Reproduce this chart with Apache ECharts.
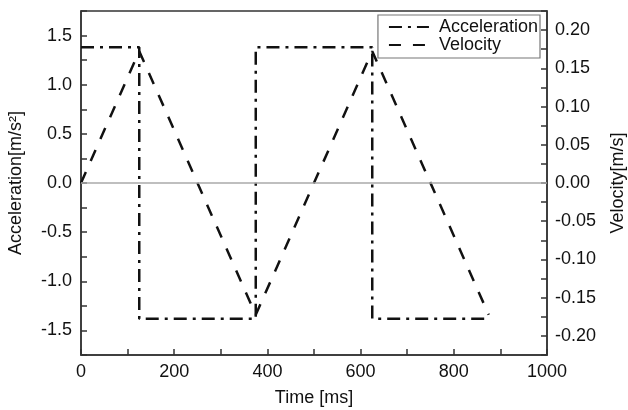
<!DOCTYPE html>
<html>
<head>
<meta charset="utf-8">
<script src="https://cdn.jsdelivr.net/npm/echarts@6/dist/echarts.min.js"></script>
<style>html,body{margin:0;padding:0;background:#fff}#c{width:628px;height:410px}</style>
</head>
<body>
<div id="c"></div>
<script>
// Acceleration (m/s^2) step profile
const accTime = [0, 125, 125, 375, 375, 625, 625, 875];
const accValue = [1.38, 1.38, -1.38, -1.38, 1.38, 1.38, -1.38, -1.38];
// Velocity (m/s) triangle profile
const velTime = [0, 125, 375, 625, 875];
const velValue = [0, 0.1725, -0.1725, 0.1725, -0.1725];
const seriesNames = ['Acceleration', 'Velocity'];
const axisNames = ['Time [ms]', 'Acceleration[m/s\u00B2]', 'Velocity[m/s]'];

const FONT = 'Liberation Sans, Arial, sans-serif';
const ink = '#111';
const FS = 18;
const chart = echarts.init(document.getElementById('c'));
const isMult = (v, step) => Math.abs(v / step - Math.round(v / step)) < 1e-6;

chart.setOption({
  animation: false,
  backgroundColor: '#fff',
  grid: { left: 81, right: 81, top: 11, bottom: 55, show: true, borderColor: '#333', borderWidth: 1.5,
    backgroundColor: 'transparent', containLabel: false, outerBoundsMode: 'none' },
  legend: {
    right: 88, top: 15, orient: 'vertical', itemGap: 0, itemWidth: 40, itemHeight: 14,
    padding: [3, 2, 4, 10], borderColor: '#777', borderWidth: 1.2, backgroundColor: '#fff',
    itemStyle: { opacity: 0 },
    textStyle: { fontFamily: FONT, fontSize: FS, lineHeight: 16, color: ink, padding: [0, 0, 0, 5] },
    data: seriesNames
  },
  xAxis: {
    type: 'value', min: 0, max: 1000, interval: 100,
    name: axisNames[0], nameLocation: 'middle', nameGap: 34,
    nameTextStyle: { fontFamily: FONT, fontSize: FS, color: ink },
    axisLine: { onZero: false, lineStyle: { color: '#333', width: 1.5 } },
    axisTick: { inside: true, length: 6, lineStyle: { color: '#333', width: 1.5 } },
    axisLabel: { fontFamily: FONT, fontSize: FS, color: ink, margin: 8,
      formatter: v => isMult(v, 200) ? String(v) : '' },
    splitLine: { show: false }
  },
  yAxis: [{
    type: 'value', min: -1.75, max: 1.75, interval: 0.25, position: 'left',
    name: axisNames[1], nameLocation: 'middle', nameGap: 56, nameRotate: 90,
    nameTextStyle: { fontFamily: FONT, fontSize: FS, color: ink },
    axisLine: { show: true, onZero: false, lineStyle: { color: '#333', width: 1.5 } },
    axisTick: { show: true, inside: true, length: 6, lineStyle: { color: '#333', width: 1.5 } },
    axisLabel: { fontFamily: FONT, fontSize: FS, color: ink, margin: 9,
      formatter: v => isMult(v, 0.5) ? v.toFixed(1) : '' },
    splitLine: { show: false }
  }, {
    type: 'value', min: -0.225, max: 0.225, interval: 0.025, position: 'right',
    name: axisNames[2], nameLocation: 'middle', nameGap: 62, nameRotate: 90,
    nameTextStyle: { fontFamily: FONT, fontSize: FS, color: ink },
    axisLine: { show: true, onZero: false, lineStyle: { color: '#333', width: 1.5 } },
    axisTick: { show: true, inside: true, length: 6, lineStyle: { color: '#333', width: 1.5 } },
    axisLabel: { fontFamily: FONT, fontSize: FS, color: ink, margin: 8,
      formatter: v => isMult(v, 0.05) ? v.toFixed(2) : '' },
    splitLine: { show: false }
  }],
  series: [{
    name: seriesNames[0], type: 'line', yAxisIndex: 0, symbol: 'none',
    data: accTime.map((t, i) => [t, accValue[i]]),
    lineStyle: { color: ink, width: 2.5, type: [13, 6, 3, 6] },
    itemStyle: { color: ink },
    markLine: { silent: true, symbol: 'none', label: { show: false },
      lineStyle: { color: '#aaa', width: 1.5, type: 'solid' }, data: [{ yAxis: 0 }] },
    z: 3
  }, {
    name: seriesNames[1], type: 'line', yAxisIndex: 1, symbol: 'none',
    data: velTime.map((t, i) => [t, velValue[i]]),
    lineStyle: { color: ink, width: 2.5, type: [12, 12] },
    itemStyle: { color: ink },
    z: 3
  }]
});
</script>
</body>
</html>
